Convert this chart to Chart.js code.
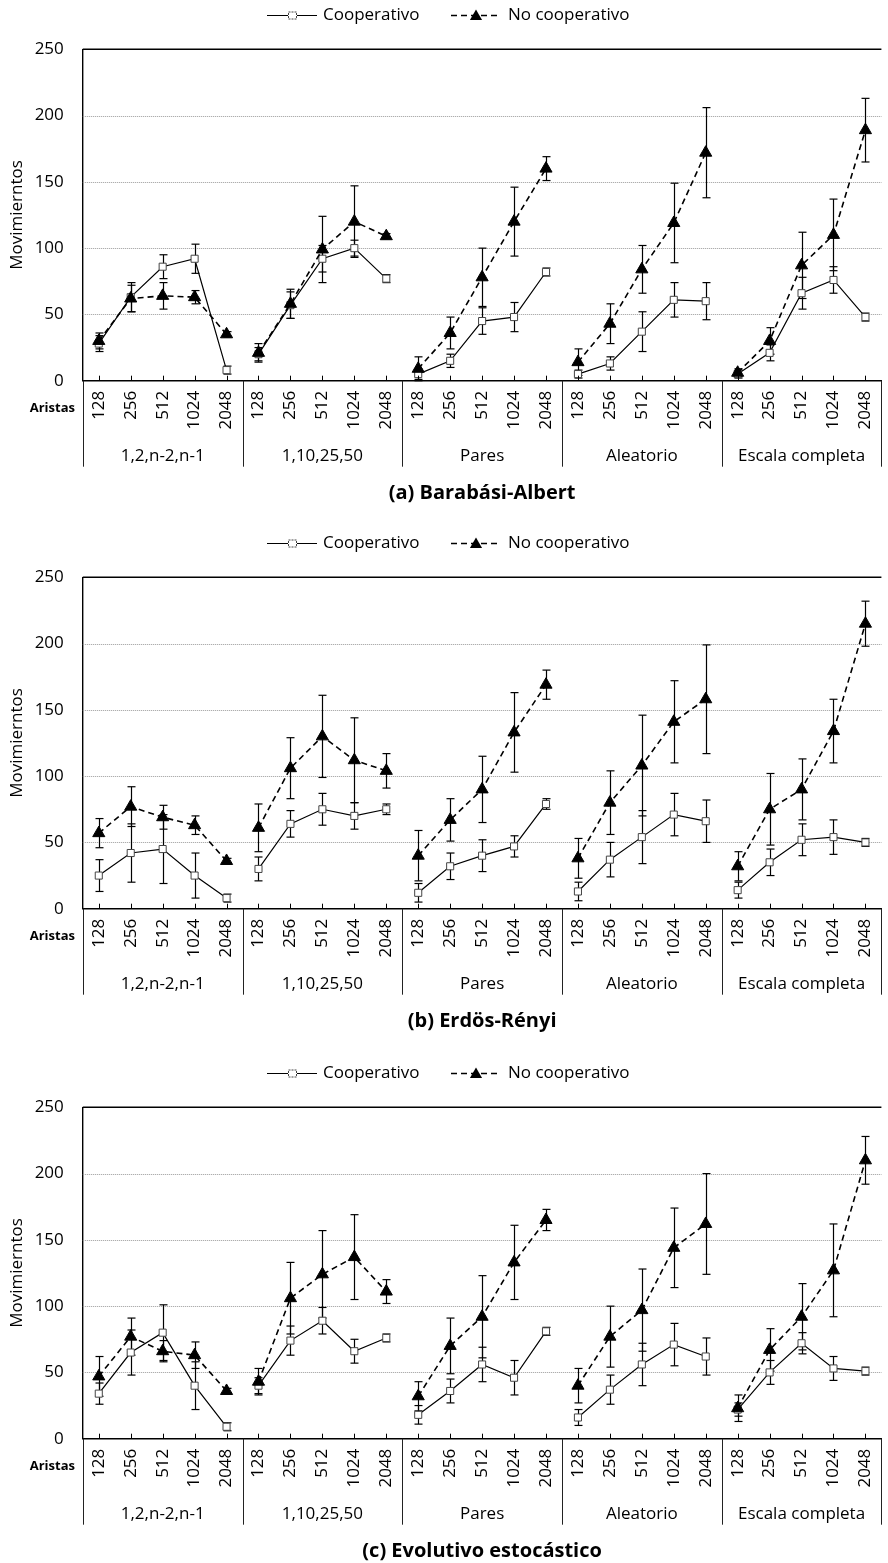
<!DOCTYPE html>
<html><head><meta charset="utf-8">
<script src="https://cdn.jsdelivr.net/npm/chart.js@4.4.1/dist/chart.umd.min.js"></script>
<style>
html,body{margin:0;padding:0;background:#fff;}
#wrap{position:relative;width:888px;height:1563px;overflow:hidden;background:#fff;}
.panel{position:absolute;left:0;width:896px;height:530px;}
canvas{display:block;}
</style></head><body>
<div id="wrap">
<div class="panel" style="top:0px"><canvas id="c0" width="896" height="530"></canvas></div>
<div class="panel" style="top:528px"><canvas id="c1" width="896" height="530"></canvas></div>
<div class="panel" style="top:1058px"><canvas id="c2" width="896" height="530"></canvas></div>
</div>
<script>
// ---------- data ----------
const sizes = ['128','256','512','1024','2048'];
const groups = ['1,2,n-2,n-1','1,10,25,50','Pares','Aleatorio','Escala completa'];
const xLabels = groups.flatMap(() => sizes);
const yTicks = [0,50,100,150,200,250];
const seriesNames = ['Cooperativo','No cooperativo'];
const panelTitles = ['(a) Barabási-Albert','(b) Erdös-Rényi','(c) Evolutivo estocástico'];
const yTitle = 'Movimierntos';
const xTitle = 'Aristas';

// (a) Barabási-Albert
const coopA    = [28,63,86,92,8,   20,57,92,100,77,  5,15,45,48,82,   5,13,37,61,60,    5,21,66,76,48];
const coopAErr = [6,11,9,11,3,     5,10,10,6,3,      4,5,10,11,3,     3,5,15,13,14,     3,6,12,10,3];
const ncA      = [30,62,64,63,35,  21,58,99,120,109, 9,36,78,120,160, 14,43,84,119,172, 6,30,87,110,189];
const ncAErr   = [6,10,10,5,2,     7,11,25,27,2,     9,12,22,26,9,    10,15,18,30,34,   3,10,25,27,24];

// (b) Erdös-Rényi
const coopB    = [25,42,45,25,8,   30,64,75,70,75,   12,32,40,47,79,  13,37,54,71,66,   14,35,52,54,50];
const coopBErr = [12,22,26,17,3,   9,10,12,10,4,     7,10,12,8,4,     7,13,20,16,16,    6,10,12,13,3];
const ncB      = [57,77,69,63,36,  61,106,130,112,104, 40,67,90,133,169, 38,80,108,141,158, 32,75,90,134,215];
const ncBErr   = [11,15,9,7,2,     18,23,31,32,13,   19,16,25,30,11,  15,24,38,31,41,   11,27,23,24,17];

// (c) Evolutivo estocástico
const coopC    = [34,65,80,40,9,   40,74,89,66,76,   18,36,56,46,81,  16,37,56,71,62,   22,50,72,53,51];
const coopCErr = [8,17,21,18,3,    6,11,10,9,3,      7,9,13,13,3,     6,11,16,16,14,    5,9,8,9,3];
const ncC      = [47,77,66,63,36,  43,106,124,137,111, 32,70,92,133,165, 40,77,97,144,162, 23,67,92,127,210];
const ncCErr   = [15,14,8,10,2,    10,27,33,32,9,    11,21,31,28,8,   13,23,31,30,38,   10,16,25,35,18];

const panels = [
  {title: panelTitles[0], coop: coopA, coopErr: coopAErr, nc: ncA, ncErr: ncAErr},
  {title: panelTitles[1], coop: coopB, coopErr: coopBErr, nc: ncB, ncErr: ncBErr},
  {title: panelTitles[2], coop: coopC, coopErr: coopCErr, nc: ncC, ncErr: ncCErr}
];

// ---------- drawing ----------
const FAM = '"Open Sans", sans-serif';
function line(ctx,x1,y1,x2,y2){ctx.beginPath();ctx.moveTo(x1,y1);ctx.lineTo(x2,y2);ctx.stroke();}
function tri(ctx,cx,cy,r){
  ctx.beginPath();
  ctx.moveTo(cx, cy - r);
  ctx.lineTo(cx + r*Math.sin(2*Math.PI/3), cy - r*Math.cos(2*Math.PI/3));
  ctx.lineTo(cx + r*Math.sin(4*Math.PI/3), cy - r*Math.cos(4*Math.PI/3));
  ctx.closePath(); ctx.fill();
}

const decor = {
  id: 'decor',
  beforeDatasetsDraw(chart) {
    const {ctx, chartArea: ca, scales: {x, y}} = chart;
    ctx.save();
    ctx.lineWidth = 1; ctx.strokeStyle = '#9a9a9a'; ctx.setLineDash([1,1]);
    yTicks.forEach(v => {
      if (v === 0 || v === 250) return;
      const py = Math.round(y.getPixelForValue(v)) + 0.5;
      line(ctx, ca.left, py, ca.right, py);
    });
    ctx.setLineDash([]); ctx.strokeStyle = '#000'; ctx.lineWidth = 1.4;
    const pt = y.getPixelForValue(250);
    line(ctx, ca.left, pt, ca.right, pt);
    // error bars
    ctx.lineWidth = 1.2;
    chart.data.datasets.forEach(ds => {
      ds.data.forEach((v, i) => {
        const e = ds.errors[i];
        const px = Math.round(x.getPixelForValue(i)) + 0.5;
        const t = y.getPixelForValue(v + e), b = y.getPixelForValue(Math.max(v - e, 0));
        line(ctx, px, t, px, b);
        line(ctx, px - 4, t, px + 4, t);
        line(ctx, px - 4, b, px + 4, b);
      });
    });
    ctx.restore();
  },
  afterDraw(chart, args, opts) {
    const {ctx, chartArea: ca, scales: {x, y}} = chart;
    ctx.save();
    ctx.strokeStyle = '#000'; ctx.lineWidth = 1;
    // small ticks inside
    for (let i = 0; i < xLabels.length; i++) {
      const px = Math.round(x.getPixelForValue(i)) + 0.5;
      line(ctx, px, ca.bottom, px, ca.bottom - 5);
    }
    // group separators (and axis extension)
    const gw = ca.width / groups.length;
    ctx.strokeStyle = '#222';
    for (let g = 0; g <= groups.length; g++) {
      const sx = Math.round(ca.left + g * gw) + 0.5;
      line(ctx, sx, ca.bottom, sx, ca.bottom + 86);
    }
    ctx.fillStyle = '#000';
    // group labels
    ctx.font = '17px ' + FAM; ctx.textAlign = 'center'; ctx.textBaseline = 'middle';
    groups.forEach((g, k) => ctx.fillText(g, ca.left + (k + 0.5) * gw, ca.bottom + 75.5));
    // Aristas
    ctx.font = 'bold 13px ' + FAM; ctx.textAlign = 'right';
    ctx.fillText(xTitle, 75, ca.bottom + 27.5);
    // title
    ctx.font = 'bold 20px ' + FAM; ctx.textAlign = 'center';
    ctx.fillText(opts.title, (ca.left + ca.right) / 2, ca.bottom + 112.5);
    // y title
    ctx.save();
    ctx.translate(17, (ca.top + ca.bottom) / 2); ctx.rotate(-Math.PI / 2);
    ctx.font = '17px ' + FAM; ctx.textAlign = 'center'; ctx.textBaseline = 'middle';
    ctx.fillText(yTitle, 0, 0);
    ctx.restore();
    // legend
    const ly = 15.5;
    ctx.font = '17px ' + FAM; ctx.textAlign = 'left'; ctx.textBaseline = 'middle';
    ctx.lineWidth = 1.2; ctx.strokeStyle = '#000';
    line(ctx, 267, ly, 317, ly);
    ctx.fillStyle = '#fff'; ctx.fillRect(288, ly - 4, 9, 8);
    ctx.strokeStyle = '#444'; ctx.lineWidth = 1; ctx.setLineDash([2,1]);
    ctx.strokeRect(288.5, ly - 3.5, 8, 7);
    ctx.setLineDash([]);
    ctx.fillStyle = '#000';
    ctx.fillText(seriesNames[0], 323, ly);
    ctx.strokeStyle = '#000'; ctx.lineWidth = 1.6; ctx.setLineDash([6,4]);
    line(ctx, 451, ly, 499, ly);
    ctx.setLineDash([]);
    tri(ctx, 476, ly + 1, 7);
    ctx.fillText(seriesNames[1], 508, ly);
    ctx.restore();
  }
};

const hideGap = c => (c.p0DataIndex % 5 === 4) ? 'rgba(0,0,0,0)' : '#000';

function makeChart(id, p) {
  const H = 530;
  const bottom = 380.7, top = 49.3, xH = 60;
  return new Chart(document.getElementById(id), {
    type: 'line',
    data: {
      labels: xLabels,
      datasets: [
        {label: seriesNames[0], data: p.coop, errors: p.coopErr, order: 1,
         borderColor: '#000', borderWidth: 1.2, tension: 0,
         pointStyle: 'rect', pointRadius: 5, pointBackgroundColor: '#fff',
         pointBorderColor: '#444', pointBorderWidth: 1,
         segment: {borderColor: hideGap}},
        {label: seriesNames[1], data: p.nc, errors: p.ncErr, order: 0,
         borderColor: '#000', borderWidth: 1.6, borderDash: [6,4], tension: 0,
         pointStyle: 'triangle', pointRadius: 7, pointBackgroundColor: '#000',
         pointBorderColor: '#000', pointBorderWidth: 1,
         segment: {borderColor: hideGap}}
      ]
    },
    options: {
      responsive: false, animation: false, devicePixelRatio: 1,
      layout: {padding: {left: 0, right: 896 - 892.8, top: top, bottom: H - bottom - xH}},
      plugins: {legend: {display: false}, tooltip: {enabled: false}, title: {display: false},
                decor: {title: p.title}},
      scales: {
        x: {
          offset: true,
          grid: {display: false, drawTicks: false},
          border: {display: true, color: '#000', width: 1.4},
          ticks: {autoSkip: false, minRotation: 90, maxRotation: 90, padding: 10,
                  color: '#000', font: {family: FAM, size: 17}},
          afterFit(s) { s.height = xH; }
        },
        y: {
          min: 0, max: 250,
          afterBuildTicks(s) { s.ticks = yTicks.map(v => ({value: v})); },
          grid: {display: false, drawTicks: false},
          border: {display: true, color: '#000', width: 1.4},
          ticks: {padding: 19, color: '#000', font: {family: FAM, size: 17}},
          afterFit(s) { s.width = 82.8; }
        }
      }
    },
    plugins: [decor]
  });
}

function go() { panels.forEach((p, i) => makeChart('c' + i, p)); }
Promise.all([
  document.fonts.load('17px "Open Sans"'),
  document.fonts.load('bold 17px "Open Sans"')
]).then(go, go);
</script>
</body></html>
